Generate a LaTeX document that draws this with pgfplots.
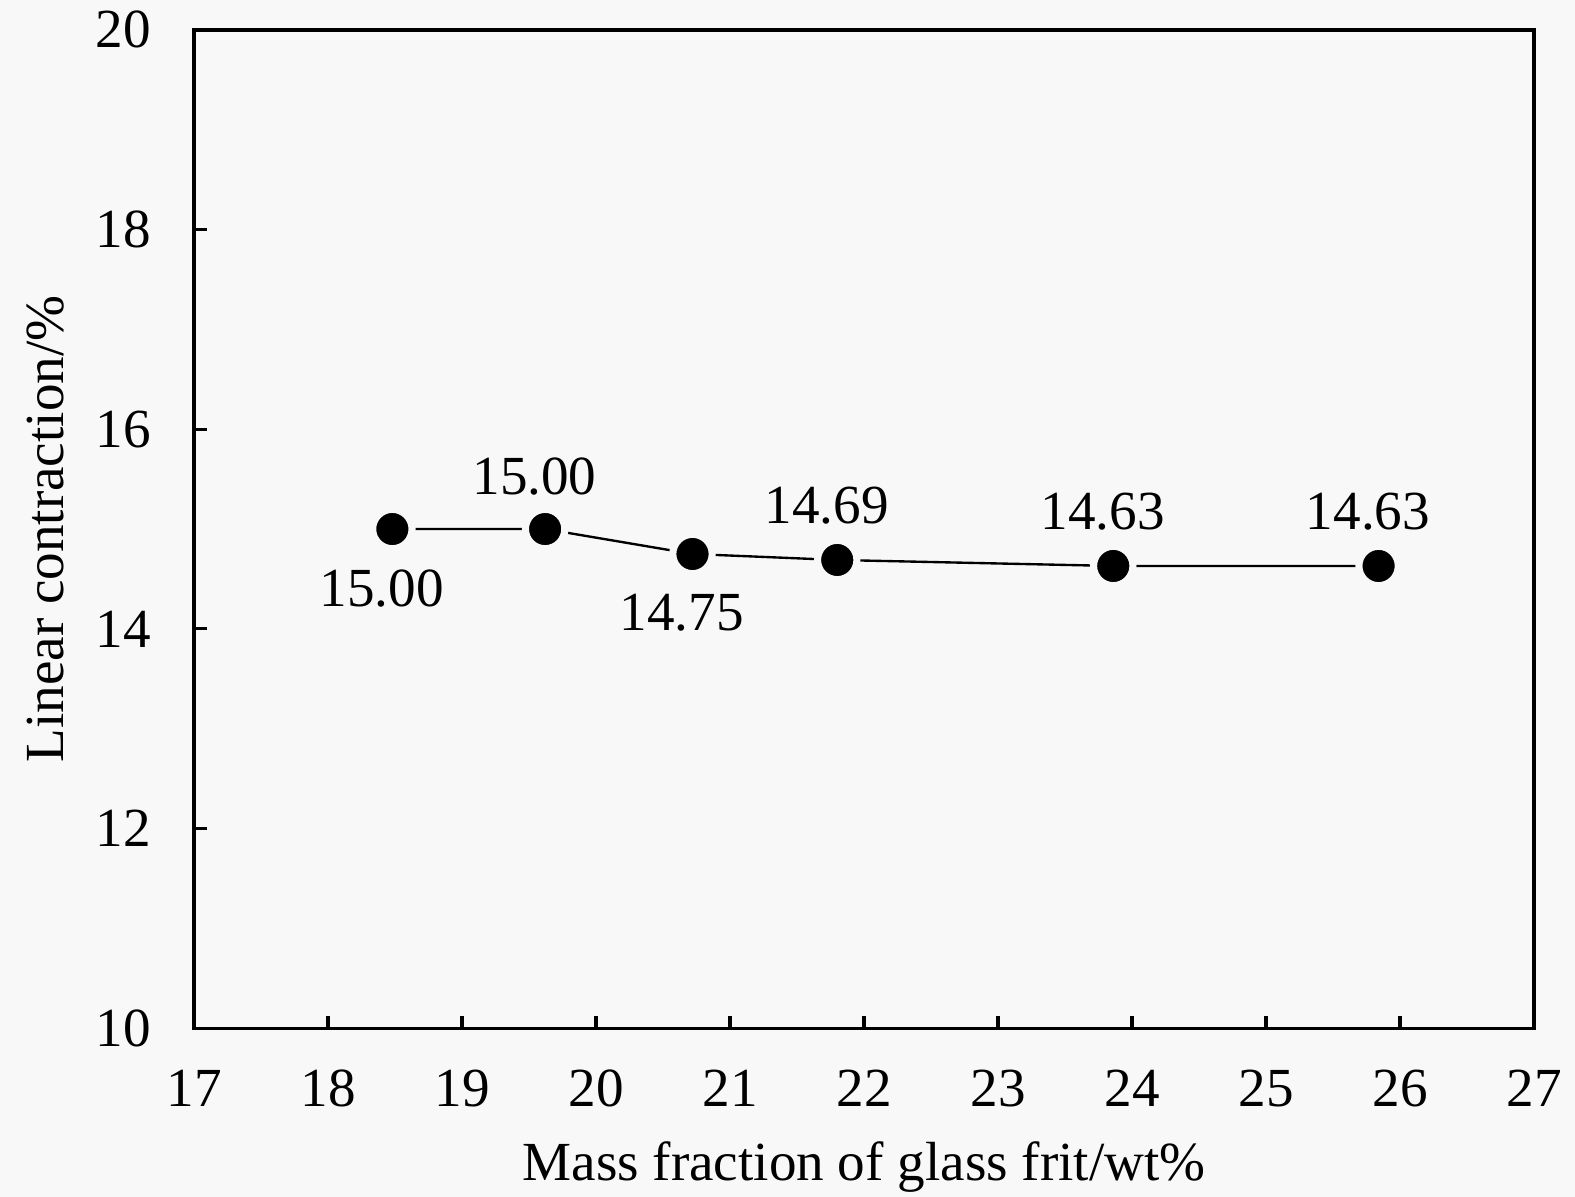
\documentclass[border=0pt]{standalone}
\usepackage{pgfplots}
\pgfplotsset{compat=1.18}
\usepackage{fontspec}
\setmainfont{Liberation Serif}
\usetikzlibrary{backgrounds}
\definecolor{bg}{HTML}{F8F8F8}
\begin{document}
\begin{tikzpicture}[font=\fontsize{14}{16.8}\selectfont]
\begin{axis}[
  scale only axis,
  width=340.3pt, height=253.5pt,
  xmin=17, xmax=27, ymin=10, ymax=20,
  xtick={17,18,...,27}, ytick={10,12,...,20},
  tick align=inside, xtick pos=bottom, ytick pos=left,
  major tick length=3.2pt,
  axis line style={line width=0.8pt},
  every tick/.style={black, line width=0.8pt},
  /pgf/number format/assume math mode=true,
  xticklabel style={anchor=base, inner sep=0pt, yshift=-19.8pt},
  yticklabel style={anchor=east, inner sep=0pt, xshift=-10.7pt},
  xlabel={Mass fraction of glass frit/wt\%},
  ylabel={Linear contraction/\%},
  xlabel style={at={(rel axis cs:0.5,-0.1523)}, anchor=base, inner sep=0pt},
  ylabel style={at={(rel axis cs:-0.111,0.5)}, anchor=center, inner sep=0pt},
  clip=false,
]
\addplot[black, line width=0.6pt, mark=*, mark size=5pt,
  mark options={fill=black, draw=bg, line width=1.8pt},
  point meta=explicit symbolic,
  visualization depends on={value \thisrow{pos} \as \pos},
  nodes near coords,
  every node near coord/.style={anchor=center, inner sep=0pt, xshift=-2.7pt, yshift=\pos pt, black},
] table[x=x, y=y, meta=lab] {
x y lab pos
18.48 15.00 15.00 -15
19.62 15.00 15.00 13.2
20.72 14.75 14.75 -15
21.80 14.69 14.69 13.7
23.86 14.63 14.63 13.7
25.84 14.63 14.63 13.7
};
\coordinate (bl) at (rel axis cs:-0.1448,-0.169);
\coordinate (tr) at (rel axis cs:1.0306,1.030);
\end{axis}
\begin{pgfonlayer}{background}
\fill[bg] (bl) rectangle (tr);
\end{pgfonlayer}
\end{tikzpicture}
\end{document}
